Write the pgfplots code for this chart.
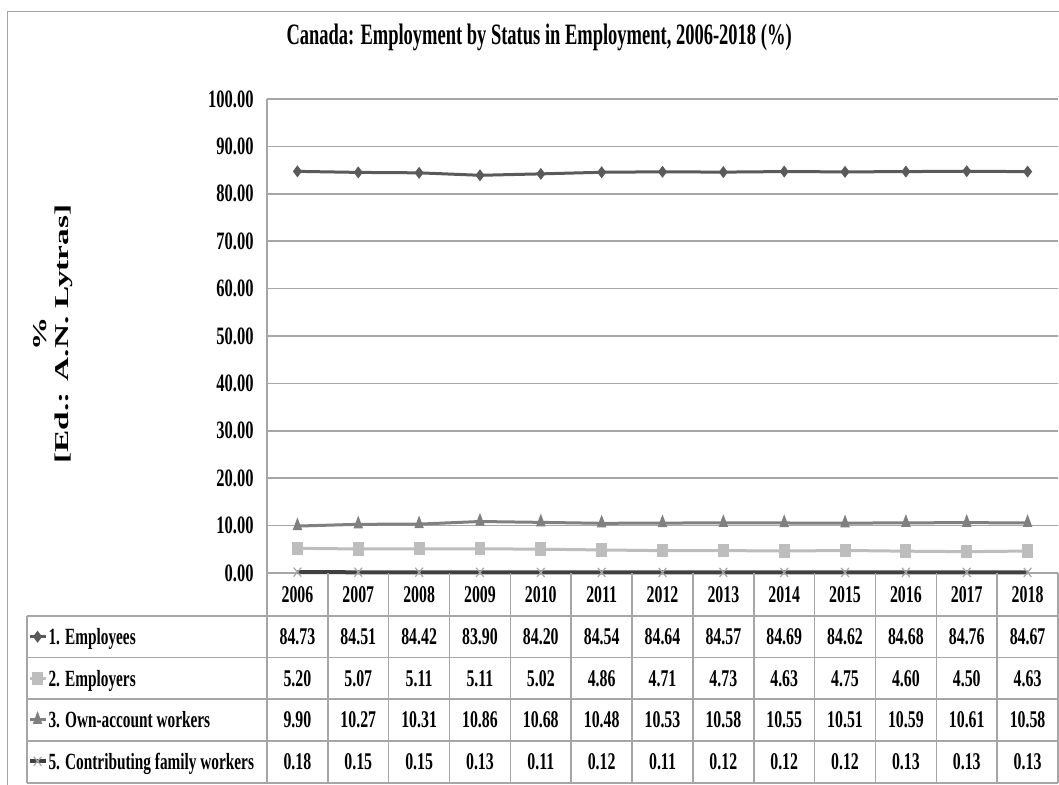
\documentclass[border=0pt]{standalone}
\usepackage{pgfplots}
\pgfplotsset{compat=1.18}
\usepackage{pgfplotstable}
\usepackage{fontspec}
\setmainfont{Liberation Serif}[FakeStretch=0.66]
\newfontfamily\titlefont{Liberation Serif}[FakeStretch=0.625]
\newfontfamily\ylabfont{Liberation Serif}[FakeStretch=1.7]

\definecolor{cEmp}{HTML}{5A5A5A}
\definecolor{cEmpl}{HTML}{BDBDBD}
\definecolor{cOwn}{HTML}{808080}
\definecolor{cFam}{HTML}{404040}
\definecolor{cX}{HTML}{A6A6A6}
\definecolor{cGrid}{HTML}{A6A6A6}

\pgfplotstableread{
x year emp empl own fam
0 2006 84.73 5.20 9.90 0.18
1 2007 84.51 5.07 10.27 0.15
2 2008 84.42 5.11 10.31 0.15
3 2009 83.90 5.11 10.86 0.13
4 2010 84.20 5.02 10.68 0.11
5 2011 84.54 4.86 10.48 0.12
6 2012 84.64 4.71 10.53 0.11
7 2013 84.57 4.73 10.58 0.12
8 2014 84.69 4.63 10.55 0.12
9 2015 84.62 4.75 10.51 0.12
10 2016 84.68 4.60 10.59 0.13
11 2017 84.76 4.50 10.61 0.13
12 2018 84.67 4.63 10.58 0.13
}\datatable

\newcommand{\tfont}{\fontsize{12}{12}\selectfont}
\newcommand{\yfont}{\fontsize{12.5}{12.5}\selectfont}
\newcommand{\lfont}{\fontsize{11.6}{12}\selectfont}

\pgfplotsset{
  tablerow/.style={forget plot, draw=none, mark=none,
    point meta=explicit,
    nodes near coords={\pgfmathprintnumber[fixed,fixed zerofill,precision=2,assume math mode=true]{\pgfplotspointmeta}},
    nodes near coords align={anchor=center},
    every node near coord/.append style={font=\tfont, text=black, inner sep=0pt, anchor=center}},
}

\begin{document}
\bfseries
\begin{tikzpicture}
\useasboundingbox (0,0) rectangle (529.5pt,392.5pt);
\fill[white] (0,0) rectangle (529.5pt,392.5pt);
\draw[cGrid, line width=0.8pt] (3.65pt,-10pt) -- (3.65pt,386.65pt) -- (545pt,386.65pt);
\begin{axis}[
  at={(133.5pt,106pt)}, anchor=south west,
  scale only axis, width=395.5pt, height=237pt,
  xmin=-0.5, xmax=12.5, ymin=0, ymax=100,
  clip=false,
  axis lines=left, axis line style={-, cGrid, line width=0.8pt},
  ytick={0,10,...,100}, ymajorgrids, major grid style={cGrid, line width=0.8pt},
  major tick length=0pt,
  yticklabel style={/pgf/number format/fixed, /pgf/number format/fixed zerofill, /pgf/number format/precision=2, /pgf/number format/assume math mode=true,
    font=\yfont, inner sep=0pt, xshift=-6.5pt},
  xtick={0,...,12},
  xticklabels={2006,2007,2008,2009,2010,2011,2012,2013,2014,2015,2016,2017,2018},
  xticklabel style={font=\tfont, anchor=center, inner sep=0pt, yshift=-11pt},
  title={Canada: Employment by Status in Employment, 2006-2018 (\%)},
  title style={at={(axis description cs:0.344,1.0895)}, anchor=base, font=\titlefont\fontsize{14.8}{16}\selectfont, inner sep=0pt},
  ylabel={\%\\{[Ed.: A.N. Lytras]}},
  every axis y label/.style={at={(axis description cs:-0.270,0.504)}, rotate=90, anchor=center, align=center, font=\ylabfont\fontsize{9.8}{11}\selectfont},
  legend style={at={(axis description cs:-0.3027,-0.0907)}, anchor=north west, draw=none, fill=none,
    inner sep=0pt, outer sep=0pt, row sep=0pt, column sep=0.5pt, font=\lfont,
    nodes={inner sep=0pt, text height=14.275pt, text depth=6.475pt}},
  legend cell align=left,
  legend image code/.code={\draw[mark repeat=2, mark phase=2, #1] plot coordinates {(0pt,0pt) (4pt,0pt) (8pt,0pt)};},
]
\addplot[cEmp, line width=1.5pt, mark=diamond*, mark size=2.6pt, mark options={solid, fill=cEmp, draw=cEmp, line width=0.5pt}] table[x=x, y=emp]{\datatable};
\addlegendentry{1. Employees}
\addplot[cEmpl, line width=1.5pt, mark=square*, mark size=3.1pt, mark options={solid, fill=cEmpl, draw=cEmpl, xscale=0.8, line width=0.5pt}] table[x=x, y=empl]{\datatable};
\addlegendentry{2. Employers}
\addplot[cOwn, line width=1.5pt, mark=triangle*, mark size=3.6pt, mark options={solid, fill=cOwn, draw=cOwn, xscale=0.65, line width=0.5pt}] table[x=x, y=own]{\datatable};
\addlegendentry{3. Own-account workers}
\addplot[cFam, line width=2pt, mark=x, mark size=3.2pt, mark options={solid, draw=cX, line width=0.6pt, xscale=0.85}] table[x=x, y=fam]{\datatable};
\addlegendentry{5. Contributing family workers}

\addplot[tablerow] table[x=x, y expr=-13.50, meta=emp]{\datatable};
\addplot[tablerow] table[x=x, y expr=-22.26, meta=empl]{\datatable};
\addplot[tablerow] table[x=x, y expr=-31.01, meta=own]{\datatable};
\addplot[tablerow] table[x=x, y expr=-39.87, meta=fam]{\datatable};

\pgfplotsinvokeforeach{-0.5,0.5,1.5,2.5,3.5,4.5,5.5,6.5,7.5,8.5,9.5,10.5,11.5,12.5}{
  \draw[cGrid, line width=0.8pt] (axis cs:#1,0) -- (axis cs:#1,-44.30);
}
\pgfplotsinvokeforeach{-9.07,-17.83,-26.58,-35.44,-44.30}{
  \draw[cGrid, line width=0.8pt] (axis cs:-4.449,#1) -- (axis cs:12.5,#1);
}
\draw[cGrid, line width=0.8pt] (axis cs:-4.449,-9.07) -- (axis cs:-4.449,-44.30);
\end{axis}
\end{tikzpicture}
\end{document}
